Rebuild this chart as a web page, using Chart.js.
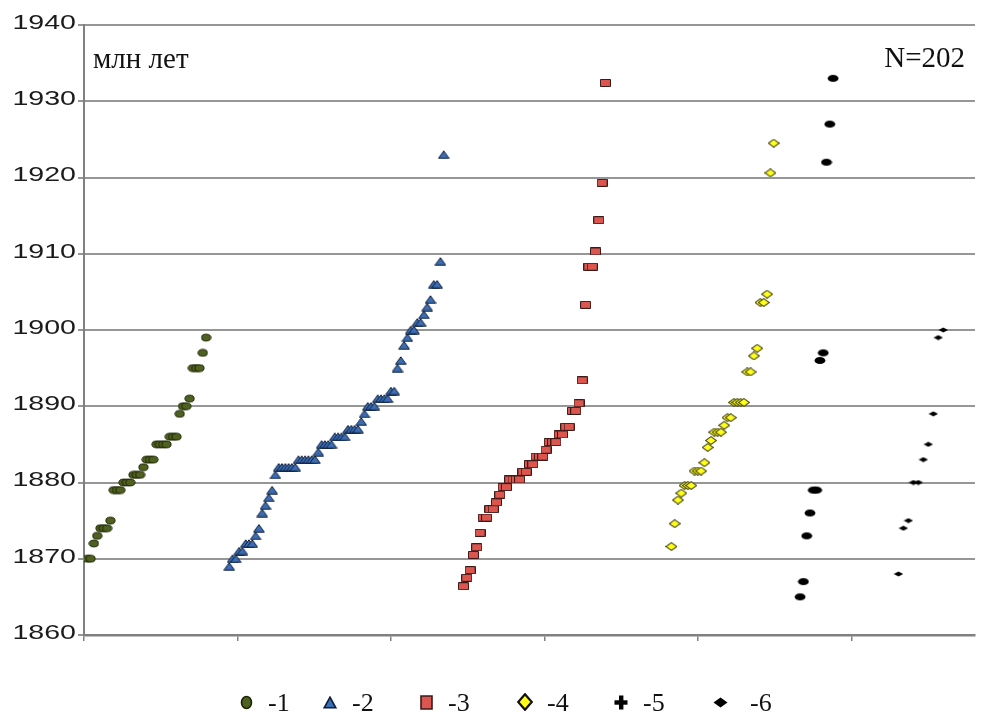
<!DOCTYPE html>
<html>
<head>
<meta charset="utf-8">
<script src="https://cdn.jsdelivr.net/npm/chart.js@4/dist/chart.umd.min.js"></script>
<style>
  html, body { margin: 0; padding: 0; background: #ffffff; }
  #wrap { width: 993px; height: 718px; }
</style>
</head>
<body>
<div id="wrap"><canvas id="c" width="993" height="718"></canvas></div>
<script>
// Age axis tick labels (Ma)
const yTickLabels = ['1860', '1870', '1880', '1890', '1900', '1910', '1920', '1930', '1940'];
const seriesNames = ['-1', '-2', '-3', '-4', '-5', '-6'];
const unitLabel = 'млн лет';
const countLabel = 'N=202';

// Sorted ages of each group, Ma
const ages1 = [1870, 1870, 1872, 1873, 1874, 1874, 1874, 1875, 1879, 1879, 1879, 1880, 1880, 1880,
  1881, 1881, 1881, 1882, 1883, 1883, 1883, 1885, 1885, 1885, 1885, 1886, 1886, 1886, 1889,
  1890, 1890, 1891, 1895, 1895, 1895, 1897, 1899];
const ages2 = [1869, 1870, 1870, 1871, 1871, 1872, 1872, 1872, 1873, 1874, 1876, 1877, 1878, 1879,
  1881, 1882, 1882, 1882, 1882, 1882, 1882, 1883, 1883, 1883, 1883, 1883, 1883, 1884,
  1885, 1885, 1885, 1885, 1886, 1886, 1886, 1886, 1887, 1887, 1887, 1887, 1888, 1889,
  1890, 1890, 1890, 1891, 1891, 1891, 1891, 1892, 1892, 1895, 1896, 1898, 1899, 1900, 1900,
  1901, 1901, 1902, 1903, 1904, 1906, 1906, 1909, 1923];
const ages3 = [1866.4, 1867.5, 1868.5, 1870.5, 1871.5, 1873.4, 1875.4, 1875.4, 1876.5, 1876.5,
  1877.4, 1878.4, 1879.4, 1879.4, 1880.4, 1880.4, 1880.4, 1880.4, 1881.4, 1881.4, 1882.4, 1882.4,
  1883.4, 1883.4, 1883.4, 1884.3, 1885.3, 1885.3, 1885.3, 1886.3, 1886.3, 1887.3, 1887.3,
  1889.4, 1889.4, 1890.4, 1893.4, 1903.3, 1908.3, 1908.3, 1910.3, 1914.4, 1919.3, 1932.4];
const ages4 = [1871.6, 1874.6, 1877.7, 1878.6, 1879.6, 1879.6, 1879.6, 1881.5, 1881.5, 1881.5,
  1882.6, 1884.6, 1885.5, 1886.6, 1886.6, 1886.6, 1887.5, 1888.5, 1888.5, 1890.5, 1890.5,
  1890.5, 1890.5, 1894.5, 1894.5, 1896.6, 1897.6, 1903.6, 1903.6, 1904.7, 1920.6, 1924.5];
const ages5 = [1865, 1867, 1873, 1876, 1879, 1879, 1896, 1897, 1922, 1927, 1933];
const ages6 = [1868, 1874, 1875, 1880, 1880, 1883, 1885, 1889, 1899, 1900];

// Rank position of the first sample of each group and spacing between ranks
const firstRank = [1, 44, 115, 178, 217, 246.8];
const rankStep = [1, 1, 1, 1, 1, 1.51];

const allAges = [ages1, ages2, ages3, ages4, ages5, ages6];

// ---------- marker images ----------
function marker(w, h, paint) {
  const c = document.createElement('canvas');
  c.width = w; c.height = h;
  const g = c.getContext('2d');
  paint(g, w, h);
  return c;
}
function shape(g, pts, fill, stroke, lw) {
  g.beginPath();
  g.moveTo(pts[0][0], pts[0][1]);
  for (let i = 1; i < pts.length; i++) g.lineTo(pts[i][0], pts[i][1]);
  g.closePath();
  g.fillStyle = fill; g.fill();
  if (stroke) { g.lineWidth = lw; g.strokeStyle = stroke; g.stroke(); }
}
function ell(g, cx, cy, rx, ry, fill, stroke, lw) {
  g.beginPath();
  g.ellipse(cx, cy, rx, ry, 0, 0, Math.PI * 2);
  g.fillStyle = fill; g.fill();
  if (stroke) { g.lineWidth = lw; g.strokeStyle = stroke; g.stroke(); }
}

const OLIVE = '#4f6120', OLIVE_D = '#1c2406';
const BLUE = '#3b6db3', BLUE_D = '#0e1e3c';
const RED = '#dc5650', RED_D = '#3d1a18';
const YEL = '#ffff1a', YEL_D = '#4b4a1e';

const plotMarkers = [
  marker(11, 9, g => ell(g, 5.5, 4.5, 4.6, 3.4, OLIVE, OLIVE_D, 1)),
  marker(12, 9, g => shape(g, [[6, 0.8], [11.3, 8.2], [0.7, 8.2]], BLUE, BLUE_D, 1)),
  marker(11, 8, g => shape(g, [[0.5, 0.5], [10.5, 0.5], [10.5, 7.5], [0.5, 7.5]], RED, RED_D, 1)),
  marker(12, 9, g => shape(g, [[6, 0.6], [11.4, 4.5], [6, 8.4], [0.6, 4.5]], YEL, YEL_D, 1.1)),
  marker(12, 9, g => ell(g, 6, 4.5, 5.4, 3.6, '#000000')),
  marker(10, 6, g => shape(g, [[5, 0.4], [9.7, 3], [5, 5.6], [0.3, 3]], '#000000'))
];

const legendMarkers = [
  marker(13, 15, g => ell(g, 6.5, 7.5, 5, 6, OLIVE, OLIVE_D, 1.6)),
  marker(14, 13, g => shape(g, [[7, 1.2], [12.8, 11.8], [1.2, 11.8]], BLUE, BLUE_D, 1.6)),
  marker(13, 15, g => shape(g, [[1, 1], [12, 1], [12, 14], [1, 14]], RED, RED_D, 1.6)),
  marker(16, 18, g => shape(g, [[8, 1.2], [14.8, 9], [8, 16.8], [1.2, 9]], YEL, '#111111', 2.2)),
  marker(14, 15, g => {
    g.fillStyle = '#000000';
    g.fillRect(5, 0.5, 4.4, 14);
    g.fillRect(0.5, 5.3, 13, 4.4);
  }),
  marker(15, 11, g => shape(g, [[7.5, 0.5], [14.5, 5.5], [7.5, 10.5], [0.5, 5.5]], '#000000'))
];

// ---------- datasets ----------
const datasets = allAges.map((ages, k) => ({
  label: seriesNames[k],
  data: ages.map((a, i) => ({ x: firstRank[k] + i * rankStep[k], y: a })),
  pointStyle: plotMarkers[k],
  pointRadius: 5,
  pointHoverRadius: 5,
  showLine: false
}));

// ---------- drawing helpers ----------
const GRID = '#969696';
const AXIS = '#808080';

const decorPlugin = {
  id: 'decor',
  afterDraw(chart) {
    const ctx = chart.ctx;
    const ys = chart.scales.y;
    const area = chart.chartArea;

    // age labels, wide sans digits
    ctx.save();
    ctx.fillStyle = '#1b1b1b';
    ctx.font = '21px "Liberation Sans", Arial, sans-serif';
    ctx.textAlign = 'right';
    ctx.textBaseline = 'middle';
    yTickLabels.forEach(lbl => {
      const py = ys.getPixelForValue(Number(lbl));
      ctx.save();
      ctx.translate(76, py - 2);
      ctx.scale(1.36, 1);
      ctx.fillText(lbl, 0, 0);
      ctx.restore();
    });
    ctx.restore();

    // unit and sample count inside the plot
    ctx.save();
    ctx.fillStyle = '#111111';
    ctx.font = '29px "Liberation Serif", "Times New Roman", serif';
    ctx.textBaseline = 'alphabetic';
    ctx.textAlign = 'left';
    ctx.fillText(unitLabel, area.left + 9, 68);
    ctx.textAlign = 'right';
    ctx.fillText(countLabel, area.right - 10, 67);
    ctx.restore();

    // legend row
    const markerX = [246, 330, 426, 525, 621, 720];
    const legendY = 702;
    ctx.save();
    ctx.fillStyle = '#111111';
    ctx.font = '26px "Liberation Serif", "Times New Roman", serif';
    ctx.textAlign = 'left';
    ctx.textBaseline = 'middle';
    seriesNames.forEach((name, i) => {
      const m = legendMarkers[i];
      ctx.drawImage(m, Math.round(markerX[i] - m.width / 2), Math.round(legendY - m.height / 2));
      ctx.fillText(name, markerX[i] + 22 + (i === 5 ? 8 : 0), legendY + 2);
    });
    ctx.restore();
  }
};

new Chart(document.getElementById('c'), {
  type: 'scatter',
  data: { datasets },
  options: {
    responsive: false,
    animation: false,
    devicePixelRatio: 1,
    events: [],
    layout: { autoPadding: false, padding: { top: 25, right: 18, bottom: 0, left: 0 } },
    plugins: { legend: { display: false }, tooltip: { enabled: false } },
    scales: {
      x: {
        type: 'linear',
        min: 0,
        max: 270,
        afterFit(scale) { scale.height = 83; },
        afterBuildTicks(scale) {
          const t = [];
          for (let v = 0; v <= 240; v += 46.5) t.push({ value: v });
          scale.ticks = t;
        },
        ticks: { display: false },
        grid: { drawOnChartArea: false, drawTicks: true, tickLength: 6, color: AXIS, lineWidth: 1.5 },
        border: { color: AXIS, width: 2.5 }
      },
      y: {
        type: 'linear',
        min: 1860,
        max: 1940,
        afterFit(scale) { scale.width = 84; },
        ticks: { display: false, stepSize: 10 },
        grid: { color: GRID, lineWidth: 2, drawTicks: true, tickLength: 6 },
        border: { color: AXIS, width: 2 }
      }
    }
  },
  plugins: [decorPlugin]
});
</script>
</body>
</html>
